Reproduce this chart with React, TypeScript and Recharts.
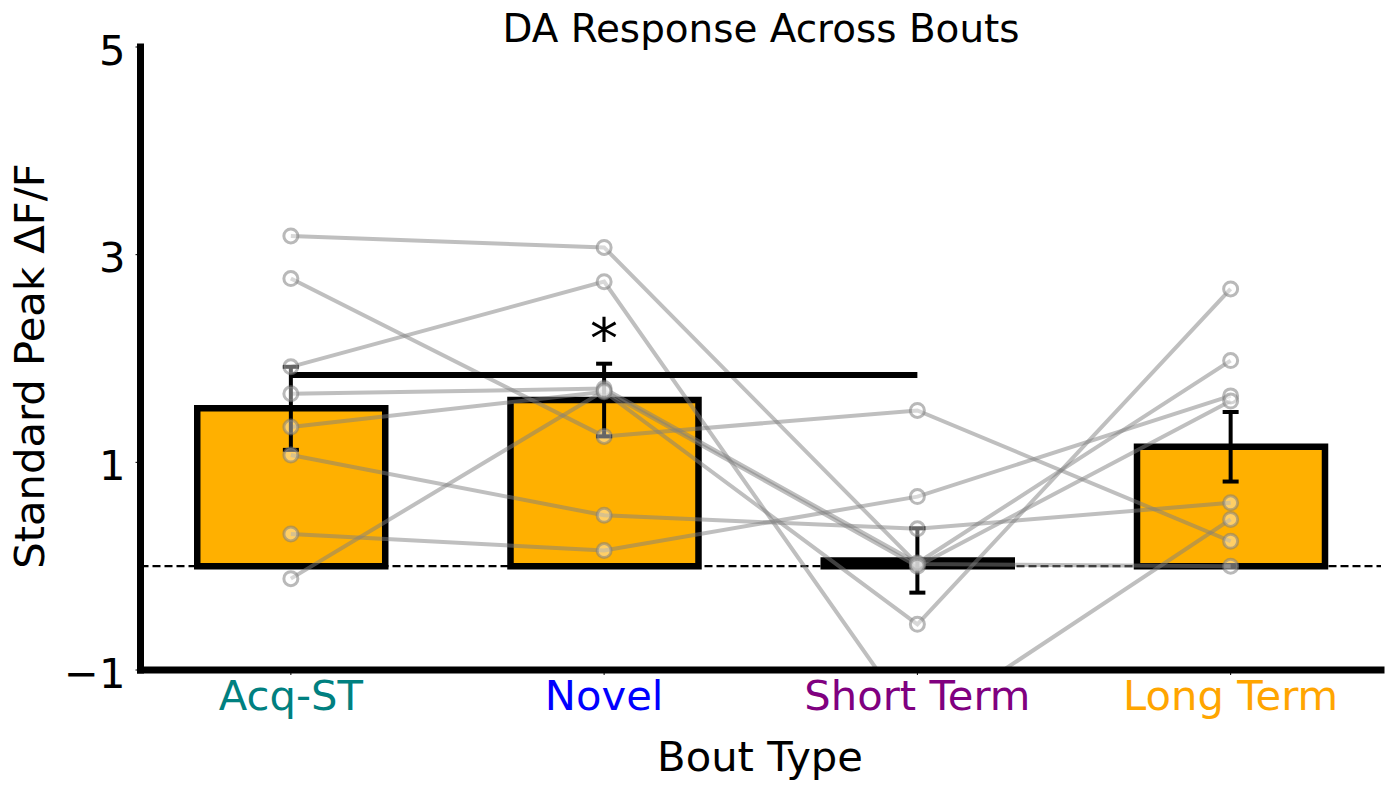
import {
  Bar,
  ComposedChart,
  ErrorBar,
  Label,
  Line,
  ReferenceDot,
  ReferenceLine,
  Scatter,
  XAxis,
  YAxis,
} from 'recharts';

const boutTypes = ['Acq-ST', 'Novel', 'Short Term', 'Long Term'];
const boutColors = ['#008080', '#0000FF', '#800080', '#FFA500'];
const meanPeak = [1.52, 1.6, 0.055, 1.15];
const semPeak = [0.4, 0.35, 0.31, 0.335];

// one animal per array, one value per bout type
const subject1 = [3.18, 3.07, 0.02, 0.0];
const subject2 = [2.77, 1.25, 1.5, 0.24];
const subject3 = [1.92, 2.74, -1.55, 0.45];
const subject4 = [0.31, 0.15, 0.67, 1.64];
const subject5 = [1.07, 0.49, 0.36, 0.61];
const subject6 = [1.66, 1.71, 0.03, 1.98];
const subject7 = [1.34, 1.68, -0.56, 2.67];
const subject8 = [-0.12, 1.69, 0.0, 1.59];
const subjects = [subject1, subject2, subject3, subject4, subject5, subject6, subject7, subject8];

const yTicks = [-1, 1, 3, 5];
const sigHeight = 1.84; // Acq-ST vs Short Term
const starHeight = 2.2;

const data = boutTypes.map((name, i) => {
  const row: Record<string, number | string> = { x: i, name, mean: meanPeak[i], sem: semPeak[i] };
  subjects.forEach((s, k) => {
    row[`s${k + 1}`] = s[i];
  });
  return row;
});

const FONT = 'DejaVu Sans';
const GREY = '#808080';
const LABEL_SIZE = 41.7;

function BoutTick({ x, y, payload }: any) {
  const i = payload.value as number;
  return (
    <text x={x} y={y} dy="0.71em" textAnchor="middle" fontSize={LABEL_SIZE} fontFamily={FONT} fill={boutColors[i]}>
      {boutTypes[i]}
    </text>
  );
}

export default function App() {
  return (
    <div
      style={{
        position: 'absolute',
        left: 0,
        top: 0,
        width: 1389,
        height: 790,
        background: '#fff',
        fontFamily: FONT,
      }}
    >
      <ComposedChart width={1389} height={790} data={data} margin={{ top: 47, right: 8, bottom: 0, left: 0 }}>
        <XAxis
          type="number"
          dataKey="x"
          domain={[-0.48, 3.48]}
          ticks={[0, 1, 2, 3]}
          allowDataOverflow
          height={120}
          tick={<BoutTick />}
          tickSize={5}
          tickMargin={5}
          tickLine={{ stroke: '#000', strokeWidth: 1 }}
          axisLine={{ stroke: '#000', strokeWidth: 7, strokeLinecap: 'square' }}
        >
          <Label
            content={() => (
              <text x={760} y={771} textAnchor="middle" fontSize={LABEL_SIZE} fontFamily={FONT} fill="#000">
                Bout Type
              </text>
            )}
          />
        </XAxis>
        <YAxis
          type="number"
          domain={[-1, 5]}
          ticks={yTicks}
          allowDataOverflow
          width={140.5}
          tickFormatter={(v: number) => String(v).replace('-', '\u2212')}
          tick={{ fontSize: LABEL_SIZE, fontFamily: FONT, fill: '#000', dy: 3 }}
          tickSize={5}
          tickMargin={10}
          tickLine={{ stroke: '#000', strokeWidth: 1 }}
          axisLine={{ stroke: '#000', strokeWidth: 7, strokeLinecap: 'square' }}
        >
          <Label
            content={() => (
              <text
                x={44}
                y={366}
                transform="rotate(-90, 44, 366)"
                textAnchor="middle"
                fontSize={LABEL_SIZE}
                fontFamily={FONT}
                fill="#000"
              >
                Standard Peak ΔF/F
              </text>
            )}
          />
        </YAxis>

        <ReferenceLine y={0} stroke="#000" strokeWidth={2.2} strokeDasharray="8 4" />

        <Bar dataKey="mean" fill="#FFB000" stroke="#000" strokeWidth={6.5} barSize={188} isAnimationActive={false} />

        {subjects.map((_, k) => (
          <Line
            key={k}
            type="linear"
            dataKey={`s${k + 1}`}
            stroke={GREY}
            strokeOpacity={0.5}
            strokeWidth={4}
            dot={{ r: 7, fill: '#fff', fillOpacity: 0.4, stroke: GREY, strokeOpacity: 0.55, strokeWidth: 3 }}
            activeDot={false}
            isAnimationActive={false}
          />
        ))}

        {/* error bars drawn over the animal lines */}
        <Scatter dataKey="mean" shape={() => <g />} isAnimationActive={false}>
          <ErrorBar dataKey="sem" direction="y" width={8} stroke="#000" strokeWidth={4} />
        </Scatter>

        <ReferenceLine
          segment={[
            { x: 0, y: sigHeight },
            { x: 2, y: sigHeight },
          ]}
          stroke="#000"
          strokeWidth={6}
        />
        <ReferenceDot
          x={1}
          y={starHeight}
          r={0}
          fill="none"
          stroke="none"
          label={{ value: '*', position: 'center', fontSize: 56, fontFamily: FONT, fill: '#000' }}
        />
      </ComposedChart>
      <div
        style={{
          position: 'absolute',
          left: 133,
          width: 1256,
          top: 10,
          textAlign: 'center',
          fontSize: 38.9,
          lineHeight: '38px',
          color: '#000',
        }}
      >
        DA Response Across Bouts
      </div>
    </div>
  );
}
